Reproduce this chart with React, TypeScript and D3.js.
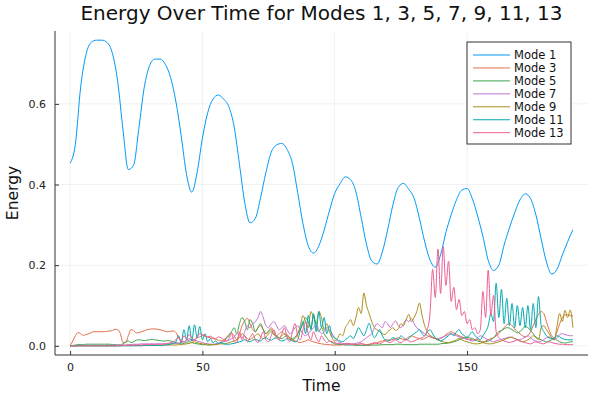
import React, { useEffect, useRef } from "react";
import * as d3 from "d3";

// Mode 1 sampled every 2 time units, the other modes every 1 unit (values in milli-energy)
const mode1Time = d3.range(0, 191, 2);
const mode1 = [
  0.453, 0.5, 0.642, 0.722, 0.753, 0.758, 0.758, 0.752, 0.725, 0.655,
  0.535, 0.437, 0.448, 0.54, 0.64, 0.694, 0.711, 0.711, 0.698, 0.665,
  0.605, 0.52, 0.425, 0.381, 0.43, 0.515, 0.578, 0.612, 0.622, 0.612,
  0.593, 0.543, 0.45, 0.355, 0.305, 0.316, 0.368, 0.43, 0.48, 0.498,
  0.502, 0.487, 0.453, 0.38, 0.303, 0.248, 0.23, 0.248, 0.287, 0.335,
  0.378, 0.402, 0.419, 0.412, 0.382, 0.318, 0.252, 0.21, 0.203, 0.233,
  0.288, 0.35, 0.393, 0.403, 0.388, 0.366, 0.316, 0.258, 0.213, 0.195,
  0.226, 0.281, 0.325, 0.362, 0.386, 0.39, 0.365, 0.322, 0.271, 0.212,
  0.187, 0.2, 0.25, 0.292, 0.33, 0.362, 0.377, 0.365, 0.325, 0.265,
  0.208, 0.178, 0.19, 0.225, 0.258, 0.288,
];

const smallTime = d3.range(0, 191, 1);
const mode3 = [
  0, 12, 25, 33, 30, 26, 28, 30, 33, 35,
  35, 35, 35, 35, 36, 37, 38, 41, 40, 30,
  8, 8, 25, 40, 38, 32, 33, 35, 37, 40,
  41, 42, 42, 41, 40, 38, 36, 35, 36, 37,
  33, 20, 12, 10, 14, 18, 12, 15, 20, 22,
  26, 24, 22, 20, 18, 16, 14, 12, 15, 20,
  28, 32, 25, 15, 30, 50, 62, 68, 55, 40,
  35, 45, 50, 40, 30, 38, 45, 35, 25, 30,
  35, 30, 22, 18, 15, 12, 10, 8, 10, 12,
  15, 12, 10, 8, 6, 5, 4, 3, 3, 2,
  2, 2, 2, 3, 4, 5, 4, 3, 3, 4,
  5, 4, 3, 3, 4, 6, 8, 10, 12, 14,
  15, 14, 16, 18, 20, 18, 16, 18, 22, 25,
  22, 20, 18, 16, 18, 22, 25, 22, 18, 15,
  18, 22, 28, 32, 35, 32, 28, 25, 22, 20,
  18, 16, 15, 14, 16, 12, 10, 12, 15, 18,
  20, 25, 30, 38, 45, 52, 55, 50, 42, 35,
  30, 25, 22, 25, 35, 50, 65, 78, 85, 80,
  60, 40, 25, 20, 35, 55, 70, 76, 77, 75,
  74,
];
const mode5 = [
  0, 1, 2, 3, 3, 3, 4, 4, 4, 4,
  4, 4, 4, 4, 4, 4, 3, 3, 2, 2,
  5, 10, 12, 8, 10, 14, 15, 14, 13, 14,
  15, 16, 15, 14, 13, 12, 12, 13, 12, 10,
  8, 6, 5, 6, 8, 10, 8, 6, 5, 4,
  3, 3, 2, 2, 3, 4, 6, 8, 12, 18,
  25, 35, 45, 30, 55, 70, 60, 40, 65, 55,
  35, 45, 55, 40, 30, 35, 40, 28, 25, 20,
  18, 22, 25, 20, 18, 22, 30, 40, 55, 70,
  60, 45, 75, 50, 35, 45, 30, 20, 12, 8,
  5, 4, 3, 3, 2, 2, 2, 2, 1, 1,
  1, 1, 1, 1, 2, 2, 2, 2, 3, 3,
  3, 3, 3, 4, 4, 4, 3, 3, 3, 3,
  3, 3, 4, 4, 4, 4, 4, 4, 4, 4,
  5, 6, 6, 7, 8, 10, 12, 15, 18, 20,
  22, 20, 18, 15, 12, 10, 8, 10, 12, 15,
  20, 28, 35, 38, 42, 45, 44, 40, 36, 32,
  35, 42, 48, 45, 38, 30, 22, 18, 15, 12,
  10, 12, 15, 18, 14, 10, 8, 7, 8, 10,
  10,
];
const mode7 = [
  0, 0, 0, 1, 1, 1, 1, 1, 1, 1,
  1, 1, 1, 1, 1, 1, 2, 2, 2, 2,
  2, 2, 3, 3, 4, 4, 4, 5, 5, 5,
  5, 5, 5, 5, 5, 5, 5, 5, 6, 6,
  6, 7, 8, 10, 12, 14, 15, 14, 12, 10,
  8, 6, 5, 4, 4, 5, 6, 8, 10, 12,
  14, 18, 22, 30, 25, 20, 35, 50, 45, 55,
  60, 70, 85, 70, 50, 45, 55, 60, 50, 40,
  45, 50, 40, 30, 35, 45, 50, 40, 30, 25,
  30, 38, 45, 52, 40, 30, 35, 45, 40, 30,
  20, 12, 8, 6, 5, 4, 4, 5, 6, 8,
  10, 15, 20, 25, 30, 45, 55, 50, 45, 60,
  55, 45, 55, 62, 50, 45, 55, 65, 60, 68,
  55, 45, 40, 35, 30, 25, 22, 20, 18, 18,
  20, 22, 25, 28, 30, 28, 25, 22, 20, 18,
  16, 14, 12, 15, 20, 25, 22, 18, 15, 12,
  10, 12, 14, 16, 18, 20, 22, 20, 18, 16,
  15, 18, 22, 25, 20, 15, 12, 10, 12, 15,
  20, 22, 18, 15, 20, 28, 30, 28, 26, 25,
  25,
];
const mode9 = [
  0, 0, 0, 0, 0, 0, 0, 0, 0, 0,
  0, 0, 0, 0, 0, 0, 0, 0, 1, 1,
  1, 1, 1, 1, 1, 1, 1, 1, 1, 1,
  1, 1, 1, 1, 1, 1, 2, 2, 2, 2,
  2, 3, 3, 4, 5, 6, 8, 10, 8, 6,
  5, 4, 4, 3, 3, 3, 4, 5, 5, 6,
  8, 10, 12, 15, 20, 30, 25, 18, 15, 20,
  25, 30, 22, 18, 22, 30, 35, 28, 22, 20,
  25, 30, 28, 20, 15, 18, 30, 50, 75, 60,
  45, 85, 70, 55, 85, 70, 40, 55, 35, 20,
  12, 18, 30, 25, 45, 55, 65, 50, 70, 95,
  80, 131, 100, 80, 60, 45, 40, 35, 30, 28,
  35, 40, 45, 38, 42, 55, 50, 65, 78, 60,
  70, 85, 106, 75, 50, 35, 25, 20, 18, 15,
  12, 10, 8, 8, 10, 12, 15, 18, 15, 12,
  10, 8, 6, 5, 5, 6, 8, 6, 5, 5,
  6, 8, 10, 12, 15, 18, 20, 22, 18, 15,
  12, 10, 12, 15, 20, 25, 20, 15, 45, 50,
  40, 30, 20, 15, 50, 80, 60, 88, 70, 89,
  45,
];
const mode11 = [
  0, 0, 0, 0, 0, 0, 0, 0, 0, 0,
  0, 0, 0, 0, 0, 0, 0, 0, 0, 0,
  0, 0, 0, 0, 0, 0, 0, 0, 1, 1,
  1, 1, 1, 1, 1, 2, 2, 3, 4, 6,
  10, 25, 8, 40, 15, 50, 12, 52, 20, 48,
  15, 30, 10, 18, 8, 12, 6, 8, 5, 4,
  4, 5, 6, 8, 10, 12, 15, 12, 10, 14,
  16, 14, 12, 18, 20, 16, 14, 18, 20, 15,
  12, 14, 18, 15, 12, 10, 15, 40, 60, 30,
  75, 40, 80, 35, 85, 45, 70, 30, 50, 25,
  20, 15, 12, 10, 15, 20, 25, 18, 30, 45,
  35, 25, 40, 56, 35, 20, 30, 40, 25, 15,
  12, 15, 20, 18, 15, 25, 20, 15, 18, 25,
  30, 35, 40, 30, 25, 35, 40, 30, 20, 15,
  12, 15, 20, 25, 30, 25, 35, 40, 30, 25,
  20, 28, 35, 25, 20, 15, 25, 35, 50, 80,
  60, 155, 70, 140, 55, 118, 50, 105, 45, 100,
  50, 95, 45, 100, 40, 105, 45, 122, 50, 35,
  25, 20, 18, 20, 25, 22, 18, 16, 15, 15,
  15,
];
const mode13 = [
  0, 0, 0, 0, 0, 0, 0, 0, 0, 0,
  0, 0, 0, 0, 0, 0, 0, 0, 0, 0,
  1, 1, 1, 1, 2, 2, 2, 2, 3, 3,
  3, 3, 3, 4, 4, 4, 5, 6, 8, 10,
  15, 22, 10, 25, 18, 28, 20, 15, 22, 30,
  28, 25, 22, 24, 20, 18, 22, 20, 15, 12,
  18, 30, 12, 8, 35, 15, 25, 10, 20, 30,
  15, 8, 20, 35, 15, 10, 25, 40, 20, 15,
  30, 45, 20, 10, 35, 55, 25, 15, 40, 60,
  30, 15, 35, 20, 10, 25, 15, 8, 12, 10,
  8, 6, 5, 4, 5, 6, 5, 4, 3, 4,
  5, 4, 3, 4, 6, 8, 6, 5, 8, 12,
  10, 8, 12, 15, 10, 8, 12, 15, 12, 10,
  12, 15, 18, 20, 25, 40, 80, 190, 120, 240,
  130, 246, 150, 210, 110, 145, 90, 115, 75, 85,
  55, 65, 40, 45, 30, 40, 135, 70, 188, 75,
  125, 35, 20, 15, 12, 10, 8, 10, 12, 15,
  12, 10, 8, 6, 5, 8, 10, 8, 6, 5,
  8, 10, 8, 6, 5, 4, 4, 3, 3, 3,
  3,
];

const labels = ["Mode 1", "Mode 3", "Mode 5", "Mode 7", "Mode 9", "Mode 11", "Mode 13"];
const colors = ["#009AFA", "#E36F47", "#3EA44E", "#C371D2", "#AC8E18", "#00A9AD", "#ED5E93"];
const xTicks = [0, 50, 100, 150];
const yTicks = [0, 0.2, 0.4, 0.6];

type Pt = { t: number; v: number };

function App() {
  const svgRef = useRef<SVGSVGElement>(null);

  useEffect(() => {
    const width = 600;
    const height = 400;
    const margin = { top: 31, right: 12, bottom: 45, left: 55 };
    const font = "'DejaVu Sans', sans-serif";

    const svg = d3.select(svgRef.current);
    svg.selectAll("*").remove();

    const series: Pt[][] = [
      mode1.map((v, i) => ({ t: mode1Time[i], v })),
      ...[mode3, mode5, mode7, mode9, mode11, mode13].map((arr) =>
        arr.map((m, i) => ({ t: smallTime[i], v: m / 1000 }))
      ),
    ];

    // Plots.jl style: 3% padding on each side of the data extent
    const tExt = d3.extent(series.flat(), (d) => d.t) as [number, number];
    const vExt = d3.extent(series.flat(), (d) => d.v) as [number, number];
    const tPad = (tExt[1] - tExt[0]) * 0.03;
    const vPad = (vExt[1] - vExt[0]) * 0.03;

    const x = d3
      .scaleLinear()
      .domain([tExt[0] - tPad, tExt[1] + tPad])
      .range([margin.left, width - margin.right]);
    const y = d3
      .scaleLinear()
      .domain([vExt[0] - vPad, vExt[1] + vPad])
      .range([height - margin.bottom, margin.top]);

    const x0 = margin.left;
    const x1 = width - margin.right;
    const y0 = height - margin.bottom;
    const y1 = margin.top;

    // grid
    const grid = svg.append("g").attr("stroke", "#000").attr("stroke-opacity", 0.1).attr("stroke-width", 0.6);
    xTicks.forEach((t) => {
      grid.append("line").attr("x1", x(t)).attr("x2", x(t)).attr("y1", y0).attr("y2", y1);
    });
    yTicks.forEach((t) => {
      grid.append("line").attr("x1", x0).attr("x2", x1).attr("y1", y(t)).attr("y2", y(t));
    });

    // lines
    const line = d3
      .line<Pt>()
      .x((d) => x(d.t))
      .y((d) => y(d.v))
      .curve(d3.curveMonotoneX);

    series.forEach((s, i) => {
      svg
        .append("path")
        .datum(s)
        .attr("d", line)
        .attr("fill", "none")
        .attr("stroke", colors[i])
        .attr("stroke-width", 1);
    });

    // axes
    const axisColor = "#333";
    const xAxis = d3.axisBottom(x).tickValues(xTicks).tickSize(-4).tickPadding(8).tickFormat(d3.format("d"));
    const yAxis = d3.axisLeft(y).tickValues(yTicks).tickSize(-4).tickPadding(9).tickFormat(d3.format(".1f"));

    const gx = svg.append("g").attr("transform", `translate(0,${y0})`).call(xAxis);
    const gy = svg.append("g").attr("transform", `translate(${x0},0)`).call(yAxis);
    [gx, gy].forEach((g) => {
      g.select(".domain").remove();
      g.selectAll("line").attr("stroke", axisColor);
      g.selectAll("text").attr("font-family", font).attr("font-size", 11).attr("fill", "#222");
    });
    svg.append("line").attr("x1", x0).attr("x2", x1).attr("y1", y0).attr("y2", y0).attr("stroke", axisColor);
    svg.append("line").attr("x1", x0).attr("x2", x0).attr("y1", y0).attr("y2", y1).attr("stroke", axisColor);

    // title and axis labels
    svg
      .append("text")
      .attr("x", (x0 + x1) / 2)
      .attr("y", 20)
      .attr("text-anchor", "middle")
      .attr("font-family", font)
      .attr("font-size", 20)
      .attr("fill", "#111")
      .text("Energy Over Time for Modes 1, 3, 5, 7, 9, 11, 13");
    svg
      .append("text")
      .attr("x", (x0 + x1) / 2)
      .attr("y", 391)
      .attr("text-anchor", "middle")
      .attr("font-family", font)
      .attr("font-size", 15.5)
      .attr("fill", "#111")
      .text("Time");
    svg
      .append("text")
      .attr("transform", `translate(18,${(y0 + y1) / 2}) rotate(-90)`)
      .attr("text-anchor", "middle")
      .attr("font-family", font)
      .attr("font-size", 15.5)
      .attr("fill", "#111")
      .text("Energy");

    // legend
    const lg = svg.append("g").attr("transform", "translate(467,42)");
    lg.append("rect")
      .attr("width", 104)
      .attr("height", 102)
      .attr("fill", "#fff")
      .attr("stroke", axisColor)
      .attr("stroke-width", 1);
    labels.forEach((lab, i) => {
      const yy = 13 + i * 12.95;
      lg.append("line")
        .attr("x1", 6)
        .attr("x2", 43)
        .attr("y1", yy)
        .attr("y2", yy)
        .attr("stroke", colors[i])
        .attr("stroke-width", 1);
      lg.append("text")
        .attr("x", 47)
        .attr("y", yy)
        .attr("dy", "0.35em")
        .attr("font-family", font)
        .attr("font-size", 11.5)
        .attr("fill", "#111")
        .text(lab);
    });
  }, []);

  return (
    <svg
      ref={svgRef}
      width={600}
      height={400}
      style={{ position: "absolute", left: 0, top: 0, background: "#fff" }}
    ></svg>
  );
}

export default App;
